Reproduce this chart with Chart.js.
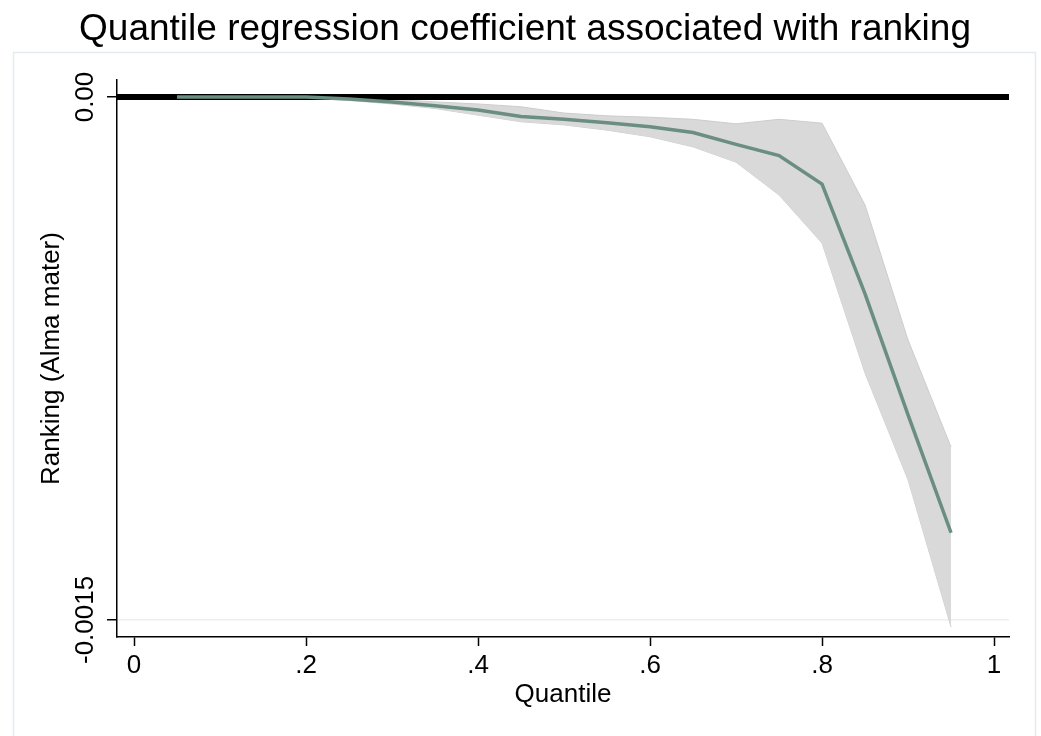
<!DOCTYPE html>
<html>
<head>
<meta charset="utf-8">
<title>Quantile regression coefficient associated with ranking</title>
<script src="https://cdn.jsdelivr.net/npm/chart.js@4.4.1/dist/chart.umd.min.js"></script>
<style>
    html, body { margin: 0; padding: 0; background: #ffffff; }
    #wrap { width: 1041px; height: 736px; }
</style>
</head>
<body>
<div id="wrap"><canvas id="quantileChart"></canvas></div>
<script>
const quantiles = [0.05, 0.10, 0.15, 0.20, 0.25, 0.30, 0.35, 0.40, 0.45, 0.50, 0.55, 0.60, 0.65, 0.70, 0.75, 0.80, 0.85, 0.90, 0.95]
const coefficient = [0, 0, 0, 0, -0.000006, -0.000014, -0.000025, -0.000037, -0.000056, -0.000064, -0.000074, -0.000085, -0.000102, -0.000136, -0.000168, -0.000250, -0.000565, -0.000912, -0.001250]
const upperBound = [0.000002, 0.000002, 0.000002, 0.000002, -0.000001, -0.000007, -0.000014, -0.000020, -0.000028, -0.000046, -0.000054, -0.000058, -0.000064, -0.000077, -0.000064, -0.000075, -0.000310, -0.000697, -0.001004]
const lowerBound = [-0.000003, -0.000003, -0.000003, -0.000003, -0.000010, -0.000020, -0.000033, -0.000052, -0.000071, -0.000080, -0.000095, -0.000114, -0.000143, -0.000187, -0.000281, -0.000419, -0.000792, -0.001098, -0.001520]
const xTicks = [0, 0.2, 0.4, 0.6, 0.8, 1]
const xTickLabels = ['0', '.2', '.4', '.6', '.8', '1']
const yTicks = [0, -0.0015]
const yTickLabels = ['0.00', '-0.0015']

const fontFamily = "'Liberation Sans', Arial, Helvetica, sans-serif"
const toPoints = (values) => quantiles.map((q, i) => ({ x: q, y: values[i] }))

// frame, zero line and the texts that Stata puts around the plot
const stataDecor = {
    id: 'stataDecor',
    beforeDraw(chart) {
        const ctx = chart.ctx
        ctx.save()
        ctx.fillStyle = '#ffffff'
        ctx.fillRect(0, 0, chart.width, chart.height)
        ctx.strokeStyle = '#e2ebee'
        ctx.lineWidth = 1.5
        ctx.strokeRect(13.5, 52.5, 1022, 720)
        ctx.restore()
    },
    beforeDatasetDraw(chart, args) {
        if (args.index !== 0) return
        const { ctx, chartArea, scales } = chart
        const y0 = scales.y.getPixelForValue(0)
        ctx.save()
        ctx.strokeStyle = '#000000'
        ctx.lineWidth = 6
        ctx.beginPath()
        ctx.moveTo(chartArea.left, y0)
        ctx.lineTo(chartArea.right, y0)
        ctx.stroke()
        ctx.restore()
    },
    afterDraw(chart) {
        const { ctx, chartArea, scales } = chart
        ctx.save()
        ctx.fillStyle = '#000000'
        ctx.textAlign = 'center'
        ctx.textBaseline = 'alphabetic'

        ctx.font = `37px ${fontFamily}`
        ctx.fillText('Quantile regression coefficient associated with ranking', 525, 40)

        ctx.font = `26px ${fontFamily}`
        ctx.fillText('Quantile', (chartArea.left + chartArea.right) / 2, 702)

        yTicks.forEach((v, i) => {
            ctx.save()
            ctx.translate(93, scales.y.getPixelForValue(v))
            ctx.rotate(-Math.PI / 2)
            ctx.fillText(yTickLabels[i], 0, 0)
            ctx.restore()
        })

        ctx.translate(59, (chartArea.top + chartArea.bottom) / 2)
        ctx.rotate(-Math.PI / 2)
        ctx.fillText('Ranking (Alma mater)', 0, 0)
        ctx.restore()
    }
}

const ctx = document.getElementById('quantileChart')
const quantileChart = new Chart(ctx, {
    type: 'line',
    data: {
        datasets: [
            {
                label: 'Coefficient',
                data: toPoints(coefficient),
                borderColor: '#6a8e80',
                borderWidth: 3.5,
                pointRadius: 0,
                fill: false,
                tension: 0,
            },
            {
                label: 'Upper bound',
                data: toPoints(upperBound),
                borderColor: '#cdcdcd',
                borderWidth: 1,
                backgroundColor: '#d9d9d9',
                pointRadius: 0,
                fill: '+1',
            },
            {
                label: 'Lower bound',
                data: toPoints(lowerBound),
                borderColor: '#cdcdcd',
                borderWidth: 1,
                pointRadius: 0,
                fill: false,
            },
        ],
    },
    options: {
        responsive: true,
        maintainAspectRatio: false,
        animation: false,
        layout: {
            padding: { top: 80, right: 32, left: 0, bottom: 0 },
        },
        plugins: {
            legend: { display: false },
            tooltip: { enabled: false },
            title: { display: false },
        },
        scales: {
            x: {
                type: 'linear',
                min: -0.0198,
                max: 1.0174,
                afterBuildTicks: (scale) => { scale.ticks = xTicks.map((v) => ({ value: v })) },
                afterFit: (scale) => { scale.height = 99 },
                ticks: {
                    color: '#000000',
                    font: { family: fontFamily, size: 26 },
                    padding: 4,
                    maxRotation: 0,
                    callback: (value) => xTickLabels[xTicks.indexOf(value)],
                },
                grid: {
                    drawOnChartArea: false,
                    drawTicks: true,
                    tickLength: 9,
                    tickColor: '#000000',
                    tickWidth: 1.5,
                },
                border: { display: true, color: '#000000', width: 1.5 },
            },
            y: {
                type: 'linear',
                min: -0.001549,
                max: 0.0000488,
                afterBuildTicks: (scale) => { scale.ticks = yTicks.map((v) => ({ value: v })) },
                afterFit: (scale) => { scale.width = 117 },
                ticks: {
                    color: 'rgba(0,0,0,0)',
                    font: { family: fontFamily, size: 26 },
                },
                grid: {
                    color: '#e9f0f2',
                    lineWidth: 1.5,
                    drawTicks: true,
                    tickLength: 10,
                    tickColor: '#000000',
                    tickWidth: 1.5,
                },
                border: { display: true, color: '#000000', width: 1.5 },
            },
        },
    },
    plugins: [stataDecor],
})
</script>
</body>
</html>
